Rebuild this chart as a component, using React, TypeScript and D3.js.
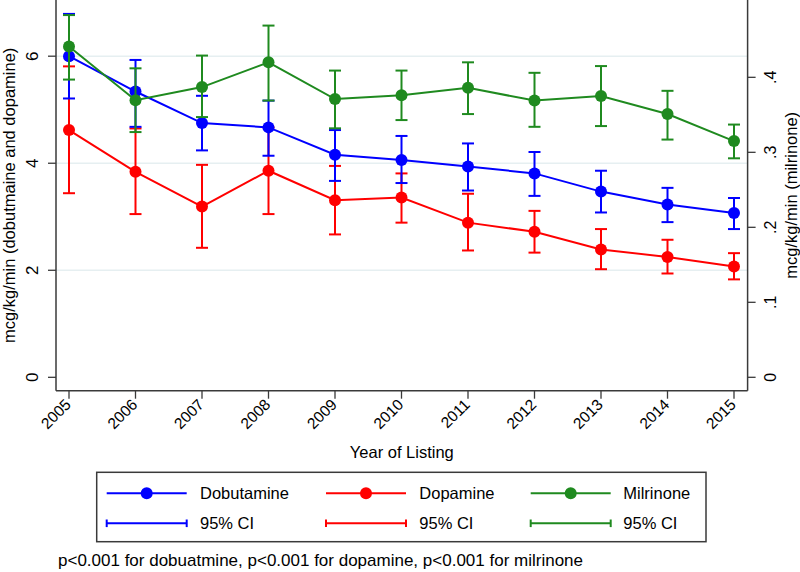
import React from "react";
import * as d3 from "d3";

const years = [2005, 2006, 2007, 2008, 2009, 2010, 2011, 2012, 2013, 2014, 2015];

// Dobutamine (left axis)
const dobutamine = [6.0, 5.34, 4.75, 4.67, 4.16, 4.06, 3.94, 3.81, 3.47, 3.23, 3.07];
const dobutamineLo = [5.21, 4.68, 4.24, 4.14, 3.67, 3.63, 3.49, 3.39, 3.08, 2.9, 2.77];
const dobutamineHi = [6.79, 5.93, 5.26, 5.17, 4.62, 4.51, 4.37, 4.21, 3.86, 3.54, 3.35];

// Dopamine (left axis)
const dopamine = [4.62, 3.84, 3.19, 3.86, 3.31, 3.36, 2.89, 2.72, 2.39, 2.25, 2.07];
const dopamineLo = [3.44, 3.05, 2.42, 3.05, 2.67, 2.89, 2.37, 2.33, 2.02, 1.94, 1.83];
const dopamineHi = [5.81, 4.65, 3.97, 4.67, 3.95, 3.81, 3.43, 3.11, 2.77, 2.57, 2.32];

// Milrinone (right axis)
const milrinone = [0.441, 0.3695, 0.387, 0.42, 0.371, 0.376, 0.386, 0.369, 0.375, 0.351, 0.315];
const milrinoneLo = [0.397, 0.327, 0.347, 0.369, 0.332, 0.343, 0.351, 0.334, 0.335, 0.317, 0.292];
const milrinoneHi = [0.483, 0.412, 0.429, 0.469, 0.409, 0.409, 0.42, 0.406, 0.415, 0.382, 0.337];

const leftTicks = [0, 2, 4, 6];
const rightTicks = [0, 0.1, 0.2, 0.3, 0.4];
const rightTickLabels = ["0", ".1", ".2", ".3", ".4"];

const FONT = "'Liberation Sans', Arial, Helvetica, sans-serif";
const BLUE = "#0000ff";
const RED = "#ff0000";
const GREEN = "#1f8a1f";
const AXIS = "#3a3a3a";
const GRID = "#e6eff1";

const plotLeft = 56;
const plotRight = 747.6;
const plotTop = 0;
const plotBottom = 390.7;

export default function App() {
  const x = d3.scaleLinear().domain([2005, 2015]).range([69, 734]);
  const yL = d3.scaleLinear().domain([-0.25, 7.05]).range([plotBottom, plotTop]);
  const yR = d3.scaleLinear().domain([-0.01786, 0.5031]).range([plotBottom, plotTop]);

  const series = [
    { name: "Dopamine", color: RED, v: dopamine, lo: dopamineLo, hi: dopamineHi, y: yL },
    { name: "Dobutamine", color: BLUE, v: dobutamine, lo: dobutamineLo, hi: dobutamineHi, y: yL },
    { name: "Milrinone", color: GREEN, v: milrinone, lo: milrinoneLo, hi: milrinoneHi, y: yR },
  ];

  const legendItems = [
    { name: "Dobutamine", color: BLUE, x0: 106.7, tx: 200 },
    { name: "Dopamine", color: RED, x0: 326, tx: 419.3 },
    { name: "Milrinone", color: GREEN, x0: 530.7, tx: 623.3 },
  ];

  return (
    <div style={{ position: "absolute", left: 0, top: 0 }}>
      <svg width={800} height={572} style={{ display: "block", background: "#fff" }} fontFamily={FONT}>
        <rect x={0} y={0} width={800} height={572} fill="#fff" />
        {/* gridlines */}
        {leftTicks
          .filter((t) => t > 0)
          .map((t) => (
            <line key={"g" + t} x1={plotLeft} x2={plotRight} y1={yL(t)} y2={yL(t)} stroke={GRID} strokeWidth={1.5} />
          ))}

        {/* series */}
        {series.map((s) => {
          const line = d3
            .line<number>()
            .x((_, i) => x(years[i]))
            .y((d) => s.y(d));
          return (
            <g key={s.name}>
              {years.map((yr, i) => (
                <g key={yr} stroke={s.color} strokeWidth={2}>
                  <line x1={x(yr)} x2={x(yr)} y1={s.y(s.lo[i])} y2={s.y(s.hi[i])} />
                  <line x1={x(yr) - 6} x2={x(yr) + 6} y1={s.y(s.lo[i])} y2={s.y(s.lo[i])} />
                  <line x1={x(yr) - 6} x2={x(yr) + 6} y1={s.y(s.hi[i])} y2={s.y(s.hi[i])} />
                </g>
              ))}
              <path d={line(s.v) || ""} fill="none" stroke={s.color} strokeWidth={2} />
              {s.v.map((d, i) => (
                <circle key={i} cx={x(years[i])} cy={s.y(d)} r={6} fill={s.color} />
              ))}
            </g>
          );
        })}

        {/* axes */}
        <line x1={plotLeft} x2={plotLeft} y1={plotTop} y2={plotBottom} stroke={AXIS} strokeWidth={1.5} />
        <line x1={plotRight} x2={plotRight} y1={plotTop} y2={plotBottom} stroke={AXIS} strokeWidth={1.5} />
        <line x1={plotLeft} x2={plotRight} y1={plotBottom} y2={plotBottom} stroke={AXIS} strokeWidth={1.5} />

        {leftTicks.map((t) => (
          <g key={"l" + t}>
            <line x1={plotLeft - 8} x2={plotLeft} y1={yL(t)} y2={yL(t)} stroke={AXIS} strokeWidth={1.3} />
            <text
              transform={`translate(37.5,${yL(t)}) rotate(-90)`}
              textAnchor="middle"
              fontSize={17}
              fill="#000"
            >
              {t}
            </text>
          </g>
        ))}
        {rightTicks.map((t, i) => (
          <g key={"r" + t}>
            <line x1={plotRight} x2={plotRight + 8} y1={yR(t)} y2={yR(t)} stroke={AXIS} strokeWidth={1.3} />
            <text
              transform={`translate(775.5,${yR(t)}) rotate(-90)`}
              textAnchor="middle"
              fontSize={16}
              fill="#000"
            >
              {rightTickLabels[i]}
            </text>
          </g>
        ))}
        {years.map((yr) => (
          <g key={"x" + yr}>
            <line x1={x(yr)} x2={x(yr)} y1={plotBottom} y2={plotBottom + 8} stroke={AXIS} strokeWidth={1.3} />
            <text
              transform={`translate(${x(yr) - 1},${plotBottom + 11}) rotate(-45)`}
              textAnchor="end"
              dy="0.35em"
              fontSize={15.5}
              fill="#000"
            >
              {yr}
            </text>
          </g>
        ))}

        {/* axis titles */}
        <text transform={`translate(15,${(plotTop + plotBottom) / 2}) rotate(-90)`} textAnchor="middle" fontSize={16.5} fill="#000">
          mcg/kg/min (dobutmaine and dopamine)
        </text>
        <text transform={`translate(797,${(plotTop + plotBottom) / 2}) rotate(-90)`} textAnchor="middle" fontSize={16.5} fill="#000">
          mcg/kg/min (milrinone)
        </text>
        <text x={(plotLeft + plotRight) / 2} y={458} textAnchor="middle" fontSize={16.5} fill="#000">
          Year of Listing
        </text>

        {/* legend */}
        <rect x={96.7} y={472.3} width={609.3} height={69.4} fill="#fff" stroke={AXIS} strokeWidth={1.5} />
        {legendItems.map((it) => (
          <g key={it.name}>
            <line x1={it.x0} x2={it.x0 + 80} y1={493.3} y2={493.3} stroke={it.color} strokeWidth={2} />
            <circle cx={it.x0 + 40} cy={493.3} r={6} fill={it.color} />
            <text x={it.tx} y={493.3} dy="0.35em" fontSize={16.5} fill="#000">
              {it.name}
            </text>
            <line x1={it.x0} x2={it.x0 + 80} y1={523.3} y2={523.3} stroke={it.color} strokeWidth={2} />
            <line x1={it.x0} x2={it.x0} y1={519.5} y2={527.1} stroke={it.color} strokeWidth={2} />
            <line x1={it.x0 + 80} x2={it.x0 + 80} y1={519.5} y2={527.1} stroke={it.color} strokeWidth={2} />
            <text x={it.tx} y={523.3} dy="0.35em" fontSize={16.5} fill="#000">
              95% CI
            </text>
          </g>
        ))}

        <text x={58} y={566} fontSize={17} fill="#000">
          p&lt;0.001 for dobuatmine, p&lt;0.001 for dopamine, p&lt;0.001 for milrinone
        </text>
      </svg>
    </div>
  );
}
